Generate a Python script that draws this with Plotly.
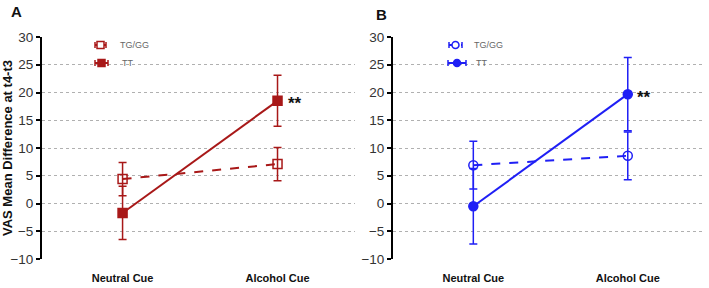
import plotly.graph_objects as go

categories = ["Neutral Cue", "Alcohol Cue"]
# Panel A (red)
a_tggg = [4.4, 7.1]
a_tggg_err = [3.0, 3.0]
a_tt = [-1.7, 18.5]
a_tt_err = [4.8, 4.6]
# Panel B (blue)
b_tggg = [6.9, 8.6]
b_tggg_err = [4.3, 4.3]
b_tt = [-0.5, 19.7]
b_tt_err = [6.8, 6.6]
y_ticks = [-10, -5, 0, 5, 10, 15, 20, 25, 30]
legend_labels = ["TG/GG", "TT"]

RED = "#a81818"
BLUE = "#1f1ff5"
FONT = "Liberation Sans, Arial, sans-serif"

W, H = 709, 288
ML, MR, MT, MB = 42, 4, 37, 29
PW, PH = W - ML - MR, H - MT - MB

def px(x):
    return (x - ML) / PW

def py(y):
    return (H - MB - y) / PH

fig = go.Figure()

def add(xa, ya, y, err, color, symbol, dash, name):
    fig.add_trace(go.Scatter(
        x=categories, y=y, xaxis=xa, yaxis=ya, name=name, showlegend=False,
        mode="lines+markers",
        line=dict(color=color, width=2, dash=dash),
        marker=dict(symbol=symbol, size=9, color=color,
                    line=dict(color=color, width=1.5)),
        error_y=dict(type="data", array=err, visible=True, color=color,
                     thickness=1.5, width=4),
    ))

add("x", "y", a_tggg, a_tggg_err, RED, "square-open", "dash", legend_labels[0])
add("x", "y", a_tt, a_tt_err, RED, "square", "solid", legend_labels[1])
add("x2", "y2", b_tggg, b_tggg_err, BLUE, "circle-open", "dash", legend_labels[0])
add("x2", "y2", b_tt, b_tt_err, BLUE, "circle", "solid", legend_labels[1])

xcommon = dict(type="category", range=[-0.52, 1.5], showline=False, showgrid=False,
               ticks="", zeroline=False, ticklabelstandoff=11,
               tickvals=categories, ticktext=["<b>%s</b>" % c for c in categories],
               tickfont=dict(family=FONT, size=11, color="#111"))
ycommon = dict(range=[-10, 30], tickvals=y_ticks, showline=True, linecolor="black",
               linewidth=2, ticks="outside", ticklen=4, tickwidth=1.5, tickcolor="black",
               showgrid=True, gridcolor="#b0b0b0", griddash="dot", gridwidth=1,
               zeroline=False, tickfont=dict(family=FONT, size=13.5, color="#333"))

shapes = []
annotations = []

def legend_item(x0, x1, yc, color, symbol, filled, dash, text, tx):
    shapes.append(dict(type="line", xref="paper", yref="paper",
                       x0=px(x0), x1=px(x1), y0=py(yc), y1=py(yc),
                       line=dict(color=color, width=2, dash=dash)))
    for xe in (x0, x1):
        shapes.append(dict(type="line", xref="paper", yref="paper",
                           x0=px(xe), x1=px(xe), y0=py(yc - 3), y1=py(yc + 3),
                           line=dict(color=color, width=1.5)))
    xc = (x0 + x1) / 2
    r = 3.5
    shapes.append(dict(type="rect" if symbol == "square" else "circle",
                       xref="paper", yref="paper",
                       x0=px(xc - r), x1=px(xc + r), y0=py(yc - r), y1=py(yc + r),
                       fillcolor=color if filled else "white",
                       line=dict(color=color, width=1.5)))
    annotations.append(dict(text=text, x=px(tx), y=py(yc), xref="paper", yref="paper",
                            showarrow=False, xanchor="left", yanchor="middle",
                            font=dict(family=FONT, size=9, color="#666")))

legend_item(95, 106, 45, RED, "square", False, "solid", legend_labels[0], 118)
legend_item(95, 108, 63, RED, "square", True, "solid", legend_labels[1], 120)
legend_item(449, 462, 45, BLUE, "circle", False, "dot", legend_labels[0], 472)
legend_item(448, 466, 63, BLUE, "circle", True, "solid", legend_labels[1], 474)

annotations += [
    dict(text="<b>A</b>", x=px(9), y=py(11), xref="paper", yref="paper", showarrow=False,
         xanchor="left", yanchor="middle", font=dict(family=FONT, size=15, color="#111")),
    dict(text="<b>B</b>", x=px(374), y=py(15), xref="paper", yref="paper", showarrow=False,
         xanchor="left", yanchor="middle", font=dict(family=FONT, size=15, color="#111")),
    dict(text="<b>**</b>", x=categories[1], y=a_tt[1], xref="x", yref="y",
         showarrow=False, xanchor="left", xshift=8, yshift=-3,
         font=dict(family=FONT, size=17, color="#111")),
    dict(text="<b>**</b>", x=categories[1], y=b_tt[1], xref="x2", yref="y2",
         showarrow=False, xanchor="left", xshift=7, yshift=-3,
         font=dict(family=FONT, size=17, color="#111")),
]

fig.update_layout(
    width=W, height=H,
    margin=dict(l=ML, r=MR, t=MT, b=MB, autoexpand=False),
    paper_bgcolor="white", plot_bgcolor="white",
    showlegend=False,
    xaxis=dict(domain=[0, 313 / PW], **xcommon),
    xaxis2=dict(domain=[351 / PW, 1], **xcommon),
    yaxis=dict(anchor="x", title=dict(text="<b>VAS Mean Difference at t4-t3</b>",
               font=dict(family=FONT, size=13, color="#111"), standoff=5), **ycommon),
    yaxis2=dict(anchor="x2", **ycommon),
    shapes=shapes,
    annotations=annotations,
)

fig.write_html("out.html", config={"displayModeBar": False},
               post_script="document.body.style.margin='0';")
